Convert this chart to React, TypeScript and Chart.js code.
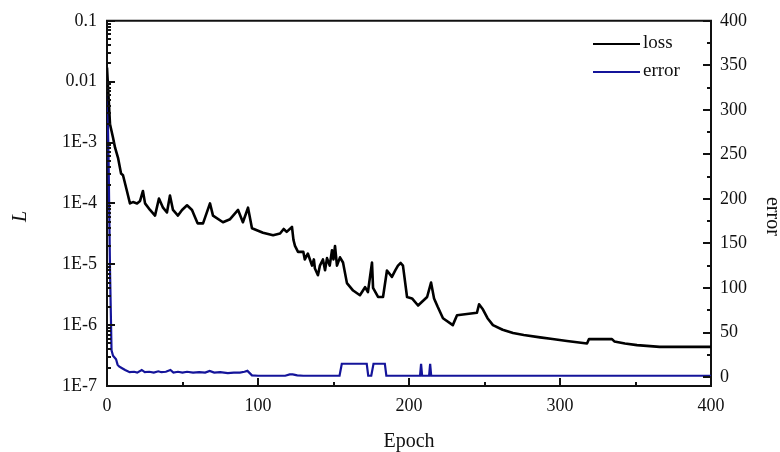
import React, { useEffect, useRef } from "react";
import { Chart, registerables } from "chart.js";

Chart.register(...registerables);

const FONT = "'Liberation Serif', 'Times New Roman', serif";

const lossEpochs = [
  0, 2, 4, 5.3, 7.3, 9.3, 10.6, 13.2, 15.2, 17.2, 19.9, 21.9, 23.8, 25.2, 28.5, 31.8, 34.4, 37.1, 39.7,
  41.7, 43.7, 47, 49.7, 53, 56.3, 58.3, 60, 63.6, 68.2, 70.2, 76.8, 81.5, 86.8, 90, 93.4, 96, 103.3,
  110, 114.6, 117, 119, 122.5, 123.5, 124.5, 126.5, 130, 131, 133, 135.8, 137, 137.7, 139.7, 141, 143,
  144.4, 145.7, 147.5, 149, 150, 151, 152.3, 154.3, 156.3, 158.9, 163, 167.5, 170.9, 172.8, 175.5,
  176.2, 179.5, 182.8, 185.4, 188.7, 191, 192.7, 194.5, 196, 198.7, 202, 206, 212, 214.6, 216.6, 219,
  222.5, 229, 231.8, 245, 246.4, 249, 252, 255.6, 262, 268.9, 276, 286.8, 295, 304.6, 317.9, 319.2,
  334.4, 336, 343, 351, 366, 400,
];
const lossValues = [
  1.7e-2, 2.0e-3, 1.2e-3, 8.3e-4, 5.6e-4, 3.1e-4, 2.9e-4, 1.6e-4, 1.0e-4, 1.05e-4, 1.0e-4, 1.1e-4,
  1.6e-4, 1.0e-4, 7.8e-5, 6.3e-5, 1.2e-4, 8.5e-5, 7.1e-5, 1.35e-4, 7.8e-5, 6.3e-5, 7.8e-5, 9.3e-5,
  7.8e-5, 5.9e-5, 4.7e-5, 4.7e-5, 1.0e-4, 6.3e-5, 4.9e-5, 5.5e-5, 7.8e-5, 4.9e-5, 8.5e-5, 3.9e-5,
  3.3e-5, 3.0e-5, 3.2e-5, 3.8e-5, 3.4e-5, 4.1e-5, 2.5e-5, 2.0e-5, 1.6e-5, 1.6e-5, 1.2e-5, 1.5e-5,
  9.5e-6, 1.2e-5, 8.5e-6, 6.6e-6, 9.5e-6, 1.2e-5, 8.0e-6, 1.26e-5, 9.5e-6, 1.7e-5, 1.2e-5, 2.0e-5,
  9.5e-6, 1.3e-5, 1.07e-5, 4.9e-6, 3.7e-6, 3.1e-6, 4.2e-6, 3.5e-6, 1.07e-5, 4.1e-6, 2.9e-6, 2.9e-6,
  7.9e-6, 6.2e-6, 8.0e-6, 9.5e-6, 1.05e-5, 9.5e-6, 2.9e-6, 2.75e-6, 2.1e-6, 2.9e-6, 5.0e-6, 2.75e-6,
  2.0e-6, 1.3e-6, 1.0e-6, 1.45e-6, 1.6e-6, 2.2e-6, 1.8e-6, 1.3e-6, 1.0e-6, 8.4e-7, 7.4e-7, 6.9e-7,
  6.3e-7, 5.9e-7, 5.5e-7, 5.0e-7, 5.9e-7, 5.9e-7, 5.4e-7, 5.0e-7, 4.7e-7, 4.4e-7, 4.4e-7,
];

const errorEpochs = [
  0, 1, 2, 3, 4, 5, 6, 7, 8, 10, 12, 15, 18, 20, 23, 25, 28, 31, 34, 36, 39, 42, 44, 47, 50, 53, 57,
  61, 65, 68, 71, 75, 80, 84, 88, 91, 93, 96, 100, 118, 121, 123, 126, 130, 154, 155.5, 172, 173, 175,
  176.5, 184, 185, 207.3, 208, 208.7, 213.3, 214, 214.7, 400,
];
const errorValues = [
  334, 250, 120, 30, 24, 22, 20, 14, 12, 10, 8, 5.5, 6, 5, 8, 5.5, 6, 5, 6.5, 5.5, 6, 8, 5, 6, 5, 6, 5,
  5.5, 5, 7, 5, 5.5, 4.5, 5, 5, 6, 7, 2, 1.5, 1.5, 3, 3, 2, 1.5, 1.5, 15, 15, 1.5, 1.5, 15, 15, 1.5,
  1.5, 15, 1.5, 1.5, 15, 1.5, 1.5,
];

const leftTickValues = [1e-7, 1e-6, 1e-5, 1e-4, 1e-3, 1e-2, 1e-1];
const leftTickLabels = ["1E-7", "1E-6", "1E-5", "1E-4", "1E-3", "0.01", "0.1"];
const rightTickValues = [0, 50, 100, 150, 200, 250, 300, 350, 400];
const xTickValues = [0, 100, 200, 300, 400];

const AXIS = "#111111";
const LOSS_COLOR = "#000000";
const ERROR_COLOR = "#14149a";

export default function App() {
  const ref = useRef<HTMLCanvasElement>(null);

  useEffect(() => {
    if (!ref.current) return;

    const framePlugin = {
      id: "frameTicks",
      afterDraw(chart: any) {
        const { ctx, chartArea: a, scales } = chart;
        const ys = scales.y;
        const yr = scales.y1;
        const xs = scales.x;
        ctx.save();
        ctx.strokeStyle = AXIS;
        ctx.lineWidth = 2;
        ctx.beginPath();
        ctx.moveTo(a.left - 1, a.top);
        ctx.lineTo(a.right + 1, a.top);
        ctx.stroke();
        ctx.beginPath();
        for (let i = 0; i < leftTickValues.length; i++) {
          const d = leftTickValues[i];
          const py = Math.round(ys.getPixelForValue(d));
          ctx.moveTo(a.left, py);
          ctx.lineTo(a.left + 8, py);
          if (i < leftTickValues.length - 1) {
            for (let m = 2; m <= 9; m++) {
              const my = Math.round(ys.getPixelForValue(d * m));
              ctx.moveTo(a.left, my);
              ctx.lineTo(a.left + 4, my);
            }
          }
        }
        for (let v = 0; v <= 400; v += 25) {
          const py = Math.round(yr.getPixelForValue(v));
          const len = v % 50 === 0 ? 8 : 4;
          ctx.moveTo(a.right, py);
          ctx.lineTo(a.right - len, py);
        }
        for (let v = 50; v < 400; v += 50) {
          const px = Math.round(xs.getPixelForValue(v));
          const len = v % 100 === 0 ? 8 : 4;
          ctx.moveTo(px, a.bottom);
          ctx.lineTo(px, a.bottom - len);
        }
        ctx.stroke();

        const items = chart.data.datasets;
        ctx.font = `19px ${FONT}`;
        ctx.textBaseline = "middle";
        ctx.textAlign = "left";
        items.forEach((ds: any, i: number) => {
          const ly = 44 + i * 28;
          ctx.strokeStyle = ds.borderColor;
          ctx.lineWidth = 2;
          ctx.beginPath();
          ctx.moveTo(593, ly);
          ctx.lineTo(640, ly);
          ctx.stroke();
          ctx.fillStyle = "#111";
          ctx.fillText(ds.label, 643, ly - 1);
        });

        const midY = (a.top + a.bottom) / 2 + 13;
        ctx.fillStyle = "#111";
        ctx.textAlign = "center";
        ctx.save();
        ctx.translate(21, midY);
        ctx.rotate(-Math.PI / 2);
        ctx.font = `italic 20px ${FONT}`;
        ctx.fillText("L", 0, 0);
        ctx.restore();
        ctx.save();
        ctx.translate(772, midY);
        ctx.rotate(Math.PI / 2);
        ctx.font = `20px ${FONT}`;
        ctx.fillText("error", 0, 0);
        ctx.restore();
        ctx.restore();
      },
    };

    const chart = new Chart(ref.current, {
      type: "line",
      data: {
        datasets: [
          {
            label: "loss",
            data: lossEpochs.map((x, i) => ({ x, y: lossValues[i] })),
            borderColor: LOSS_COLOR,
            borderWidth: 2.6,
            pointRadius: 0,
            tension: 0,
            borderJoinStyle: "round",
            yAxisID: "y",
          },
          {
            label: "error",
            data: errorEpochs.map((x, i) => ({ x, y: errorValues[i] })),
            borderColor: ERROR_COLOR,
            borderWidth: 2.2,
            pointRadius: 0,
            tension: 0,
            yAxisID: "y1",
          },
        ],
      },
      options: {
        responsive: false,
        animation: false,
        events: [],
        layout: { padding: { top: 20, left: 0, right: 0, bottom: 0 } },
        plugins: {
          legend: { display: false },
          tooltip: { enabled: false },
        },
        scales: {
          x: {
            type: "linear",
            min: 0,
            max: 400,
            afterBuildTicks: (s: any) => {
              s.ticks = xTickValues.map((v) => ({ value: v }));
            },
            afterFit: (s: any) => {
              s.height = 66;
            },
            ticks: {
              color: "#111",
              font: { family: FONT, size: 18 },
              padding: 9,
              maxRotation: 0,
              callback: (v: any) => String(v),
            },
            grid: { display: true, drawOnChartArea: false, drawTicks: false },
            border: { display: true, color: AXIS, width: 2 },
            title: {
              display: true,
              text: "Epoch",
              color: "#111",
              font: { family: FONT, size: 20, lineHeight: 1 },
              padding: { top: 0, bottom: 0 },
            },
          },
          y: {
            type: "logarithmic",
            position: "left",
            min: 1e-7,
            max: 1e-1,
            afterBuildTicks: (s: any) => {
              s.ticks = leftTickValues.map((v) => ({ value: v }));
            },
            afterFit: (s: any) => {
              s.width = 107;
            },
            ticks: {
              color: "#111",
              font: { family: FONT, size: 18 },
              padding: 10,
              callback: (v: any) => {
                const idx = leftTickValues.findIndex((t) => Math.abs(Math.log10(t) - Math.log10(v)) < 1e-6);
                return idx >= 0 ? leftTickLabels[idx] : "";
              },
            },
            grid: { display: true, drawOnChartArea: false, drawTicks: false },
            border: { display: true, color: AXIS, width: 2 },
          },
          y1: {
            type: "linear",
            position: "right",
            min: -10,
            max: 400,
            afterBuildTicks: (s: any) => {
              s.ticks = rightTickValues.map((v) => ({ value: v }));
            },
            afterFit: (s: any) => {
              s.width = 69;
            },
            ticks: {
              color: "#111",
              font: { family: FONT, size: 18 },
              padding: 9,
              callback: (v: any) => String(v),
            },
            grid: { display: true, drawOnChartArea: false, drawTicks: false },
            border: { display: true, color: AXIS, width: 2 },
          },
        },
      },
      plugins: [framePlugin],
    });

    return () => chart.destroy();
  }, []);

  return (
    <div style={{ position: "absolute", left: 0, top: 0, width: 780, height: 452, background: "#fff" }}>
      <canvas ref={ref} width={780} height={452} style={{ width: 780, height: 452, display: "block" }} />
    </div>
  );
}
